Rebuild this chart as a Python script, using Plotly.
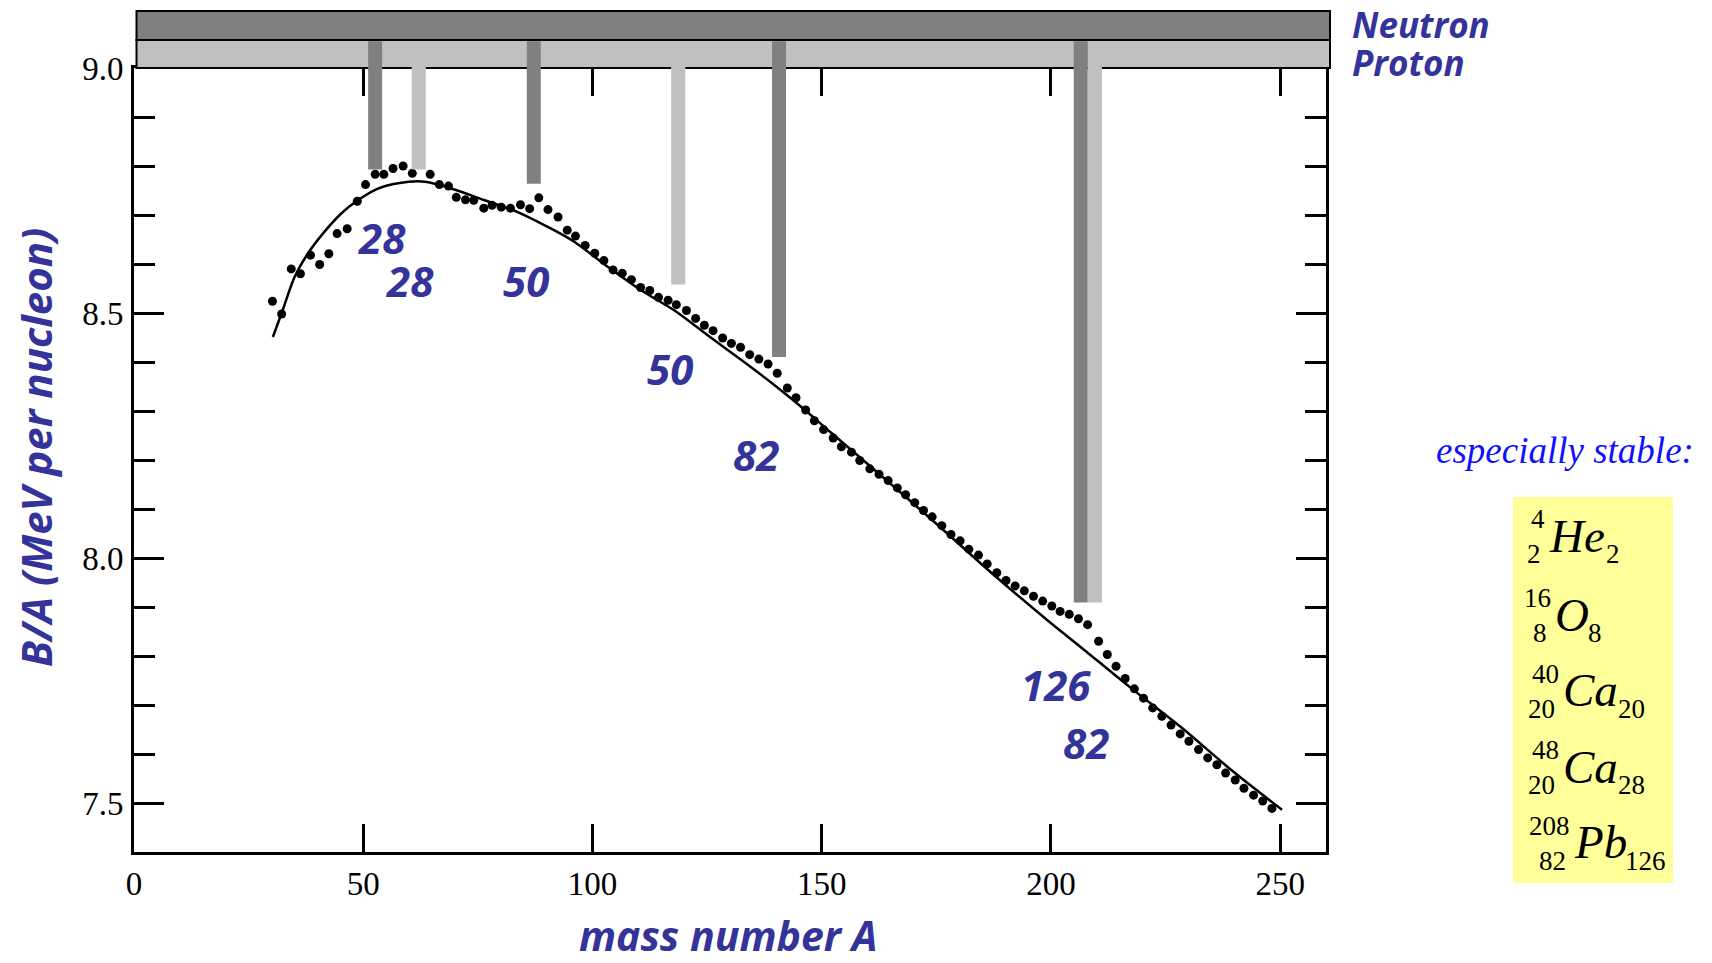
import plotly.graph_objects as go

# ---------------- data ----------------
# experimental binding energy per nucleon (dots)
mass_A = [30.2, 32.2, 34.3, 36.3, 38.5, 40.5, 42.5, 44.3, 46.5, 48.7, 50.5, 52.6, 54.5, 56.5, 58.7,
          60.7, 64.6, 66.6, 68.6, 70.3, 72.3, 74.1, 76.3, 78.1, 80.1, 82.1, 84.3, 86.3, 88.3, 90.3,
          92.5, 94.5, 96.3, 98.4, 100.5, 102.5, 104.5, 106.5, 108.5, 110.5, 112.5, 114.4, 116.5, 118.3,
          120.5, 122.5, 124.4, 126.3, 128.4, 130.3, 132.3, 134.3, 136.3, 138.3, 140.3, 142.5, 144.4,
          146.5, 148.4, 150.4, 152.5, 154.3, 156.5, 158.3, 160.5, 162.5, 164.5, 166.5, 168.3, 170.3,
          172.2, 174.1, 176.2, 178.2, 180.2, 182.1, 184.2, 186.1, 188.2, 190.2, 192.2, 194.2, 196.2,
          198.2, 200.2, 202.0, 204.0, 206.0, 208.0, 210.4, 212.3, 214.2, 216.2, 218.2, 220.2, 222.2,
          224.2, 226.2, 228.2, 230.1, 232.2, 234.2, 236.2, 238.1, 240.2, 242.1, 244.2, 246.2, 248.2]
b_per_a = [8.524, 8.498, 8.590, 8.580, 8.618, 8.599, 8.621, 8.662, 8.672, 8.728, 8.762, 8.783, 8.783, 8.795, 8.800,
           8.785, 8.783, 8.762, 8.759, 8.736, 8.731, 8.730, 8.714, 8.720, 8.716, 8.714, 8.721, 8.713, 8.735, 8.711,
           8.696, 8.669, 8.657, 8.638, 8.622, 8.607, 8.588, 8.581, 8.568, 8.552, 8.546, 8.532, 8.526, 8.517,
           8.505, 8.489, 8.475, 8.464, 8.449, 8.438, 8.430, 8.415, 8.406, 8.396, 8.377, 8.347, 8.327,
           8.302, 8.280, 8.262, 8.245, 8.227, 8.216, 8.199, 8.182, 8.171, 8.158, 8.143, 8.129, 8.113,
           8.097, 8.084, 8.066, 8.048, 8.035, 8.018, 8.006, 7.988, 7.970, 7.954, 7.943, 7.933, 7.922,
           7.912, 7.902, 7.891, 7.885, 7.876, 7.864, 7.830, 7.803, 7.779, 7.754, 7.733, 7.714, 7.694,
           7.677, 7.659, 7.641, 7.626, 7.609, 7.592, 7.578, 7.561, 7.547, 7.530, 7.516, 7.504, 7.489]

curve_A = [30.3, 32.4, 35.0, 37.9, 41.2, 45.2, 48.8, 53.2, 57.6, 63.4, 69.2, 76.5, 83.7, 91.0, 96.1,
           103.4, 110.7, 117.9, 125.2, 132.5, 139.8, 147.0, 152.0, 163.0, 175.0, 187.0, 199.5, 206.8,
           217.0, 228.6, 239.0, 250.4]
curve_B = [8.451, 8.505, 8.573, 8.621, 8.662, 8.703, 8.730, 8.754, 8.765, 8.768, 8.754, 8.730, 8.706, 8.672, 8.645,
           8.594, 8.546, 8.505, 8.454, 8.404, 8.352, 8.297, 8.256, 8.168, 8.070, 7.970, 7.871, 7.816,
           7.738, 7.653, 7.570, 7.486]

# magic-number bars (neutron / proton shell closures)
neutron_bar_A = [52.6, 87.2, 140.7, 206.5]
neutron_bar_bottom = [8.793, 8.764, 8.410, 7.909]
proton_bar_A = [62.1, 118.7, 209.6]
proton_bar_bottom = [8.793, 8.558, 7.909]
bar_width_A = 3.05

# magic-number labels
magic_text = ["28", "28", "50", "50", "82", "126", "82"]
magic_A = [54.0, 60.2, 85.6, 116.9, 135.6, 201.0, 207.7]
magic_B = [8.654, 8.566, 8.566, 8.387, 8.212, 7.742, 7.624]

# especially stable nuclei
iso_symbol = ["He", "O", "Ca", "Ca", "Pb"]
iso_mass = [4, 16, 40, 48, 208]
iso_Z = [2, 8, 20, 20, 82]
iso_N = [2, 8, 20, 28, 126]

# ---------------- layout geometry ----------------
W, H = 1712, 963
L, R, T, B = 134, 1326, 68, 852   # plot area in pixels
PW, PH = R - L, B - T


def px_x(px):
    return (px - L) / PW


def px_y(py):
    return (B - py) / PH


BLUE = "#333399"
SANS = "Open Sans"

fig = go.Figure()

fig.add_trace(go.Scatter(x=curve_A, y=curve_B, mode="lines",
                         line=dict(color="black", width=2.5, shape="spline", smoothing=0.8),
                         hoverinfo="skip", showlegend=False))
fig.add_trace(go.Scatter(x=mass_A, y=b_per_a, mode="markers",
                         marker=dict(color="black", size=9, line=dict(width=0)),
                         showlegend=False))

shapes = []
# top bands
shapes.append(dict(type="rect", xref="paper", yref="paper", x0=px_x(136.5), x1=px_x(1330),
                   y0=px_y(40), y1=px_y(11), fillcolor="#808080",
                   line=dict(color="black", width=2), layer="above"))
shapes.append(dict(type="rect", xref="paper", yref="paper", x0=px_x(136.5), x1=px_x(1330),
                   y0=px_y(68), y1=px_y(40), fillcolor="#C0C0C0",
                   line=dict(color="black", width=2), layer="above"))
# neutron bars (dark)
for a, b in zip(neutron_bar_A, neutron_bar_bottom):
    shapes.append(dict(type="rect", xref="x", yref="y", x0=a - bar_width_A / 2, x1=a + bar_width_A / 2,
                       y0=b, y1=9.0, fillcolor="#808080", line=dict(width=0), layer="above"))
    shapes.append(dict(type="rect", xref="x", yref="paper", x0=a - bar_width_A / 2, x1=a + bar_width_A / 2,
                       y0=px_y(69.5), y1=px_y(41.2), fillcolor="#808080", line=dict(width=0), layer="above"))
# proton bars (light)
for a, b in zip(proton_bar_A, proton_bar_bottom):
    shapes.append(dict(type="rect", xref="x", yref="y", x0=a - bar_width_A / 2, x1=a + bar_width_A / 2,
                       y0=b, y1=9.0, fillcolor="#C0C0C0", line=dict(width=0), layer="above"))
    shapes.append(dict(type="rect", xref="x", yref="paper", x0=a - bar_width_A / 2, x1=a + bar_width_A / 2,
                       y0=px_y(69.5), y1=px_y(66), fillcolor="#C0C0C0", line=dict(width=0), layer="above"))
# yellow box
shapes.append(dict(type="rect", xref="paper", yref="paper", x0=px_x(1513), x1=px_x(1673),
                   y0=px_y(883), y1=px_y(497), fillcolor="#FFFF99", line=dict(width=0), layer="below"))

annotations = []
bfont = dict(family=SANS, size=42, color=BLUE, weight="bold", style="italic")
for t, a, b in zip(magic_text, magic_A, magic_B):
    annotations.append(dict(x=a, y=b, xref="x", yref="y", text=t, showarrow=False,
                            font=bfont, xanchor="center", yanchor="middle"))

annotations.append(dict(x=px_x(1350), y=px_y(24), xref="paper", yref="paper", text="Neutron",
                        showarrow=False, xanchor="left", yanchor="middle",
                        font=dict(family=SANS, size=35, color=BLUE, weight="bold", style="italic")))
annotations.append(dict(x=px_x(1350), y=px_y(63), xref="paper", yref="paper", text="Proton",
                        showarrow=False, xanchor="left", yanchor="middle",
                        font=dict(family=SANS, size=35, color=BLUE, weight="bold", style="italic")))

annotations.append(dict(x=px_x(35.5), y=px_y(447.5), xref="paper", yref="paper",
                        text="B/A (MeV per nucleon)", textangle=-90, showarrow=False,
                        xanchor="center", yanchor="middle",
                        font=dict(family=SANS, size=42, color=BLUE, weight="bold", style="italic")))
annotations.append(dict(x=px_x(727.5), y=px_y(935), xref="paper", yref="paper",
                        text="mass number A", showarrow=False, xanchor="center", yanchor="middle",
                        font=dict(family=SANS, size=41, color=BLUE, weight="bold", style="italic")))

annotations.append(dict(x=px_x(1565), y=px_y(451), xref="paper", yref="paper",
                        text="especially stable:", showarrow=False, xanchor="center", yanchor="middle",
                        font=dict(family="Liberation Serif", size=37, color="#1010FF", style="italic")))

# isotope notation, positions in pixels
sym_base = [551.7, 630.7, 706.0, 782.7, 858.3]
sym_left = [1548.3, 1554.0, 1561.7, 1561.7, 1572.7]
tail_left = [1605.0, 1587.0, 1617.3, 1617.3, 1624.0]
SYM, SCR = 47, 27
for i in range(len(iso_symbol)):
    base = sym_base[i]
    sf = dict(family="Liberation Serif", size=SYM, color="black", style="italic")
    cf = dict(family="Liberation Serif", size=SCR, color="black")
    annotations.append(dict(x=px_x(sym_left[i]), y=px_y(base - 0.3375 * SYM), xref="paper", yref="paper",
                            text=iso_symbol[i], showarrow=False, xanchor="left", yanchor="middle",
                            font=sf, borderpad=0))
    annotations.append(dict(x=px_x(sym_left[i] - 2), y=px_y(base - 23.3 - 0.3375 * SCR), xref="paper",
                            yref="paper", text=str(iso_mass[i]), showarrow=False, xanchor="right",
                            yanchor="middle", font=cf, borderpad=0))
    annotations.append(dict(x=px_x(sym_left[i] - 6), y=px_y(base + 11.7 - 0.3375 * SCR), xref="paper",
                            yref="paper", text=str(iso_Z[i]), showarrow=False, xanchor="right",
                            yanchor="middle", font=cf, borderpad=0))
    annotations.append(dict(x=px_x(tail_left[i]), y=px_y(base + 11.7 - 0.3375 * SCR), xref="paper",
                            yref="paper", text=str(iso_N[i]), showarrow=False, xanchor="left",
                            yanchor="middle", font=cf, borderpad=0))

tickfont = dict(family="Liberation Serif", size=33, color="black")
fig.update_layout(
    width=W, height=H, autosize=False,
    margin=dict(l=L, r=W - R, t=T, b=H - B, pad=0),
    paper_bgcolor="white", plot_bgcolor="white",
    shapes=shapes, annotations=annotations, showlegend=False,
    xaxis=dict(range=[0, 260], tickmode="linear", tick0=0, dtick=50, ticks="inside", ticklen=28,
               tickwidth=3, tickcolor="black", showline=True, linewidth=3, linecolor="black",
               mirror="ticks", showgrid=False, zeroline=False, tickfont=tickfont,
               ticklabelstandoff=0),
    yaxis=dict(range=[7.4, 9.0], tickmode="linear", tick0=7.5, dtick=0.5, tickformat=".1f",
               ticks="inside", ticklen=30, tickwidth=3, tickcolor="black", showline=True, linewidth=3,
               linecolor="black", mirror="ticks", showgrid=False, zeroline=False, tickfont=tickfont,
               ticklabelstandoff=1,
               minor=dict(dtick=0.1, tick0=7.5, ticks="inside", ticklen=21, tickwidth=3,
                          tickcolor="black", showgrid=False)),
)

fig.write_html("out.html")
